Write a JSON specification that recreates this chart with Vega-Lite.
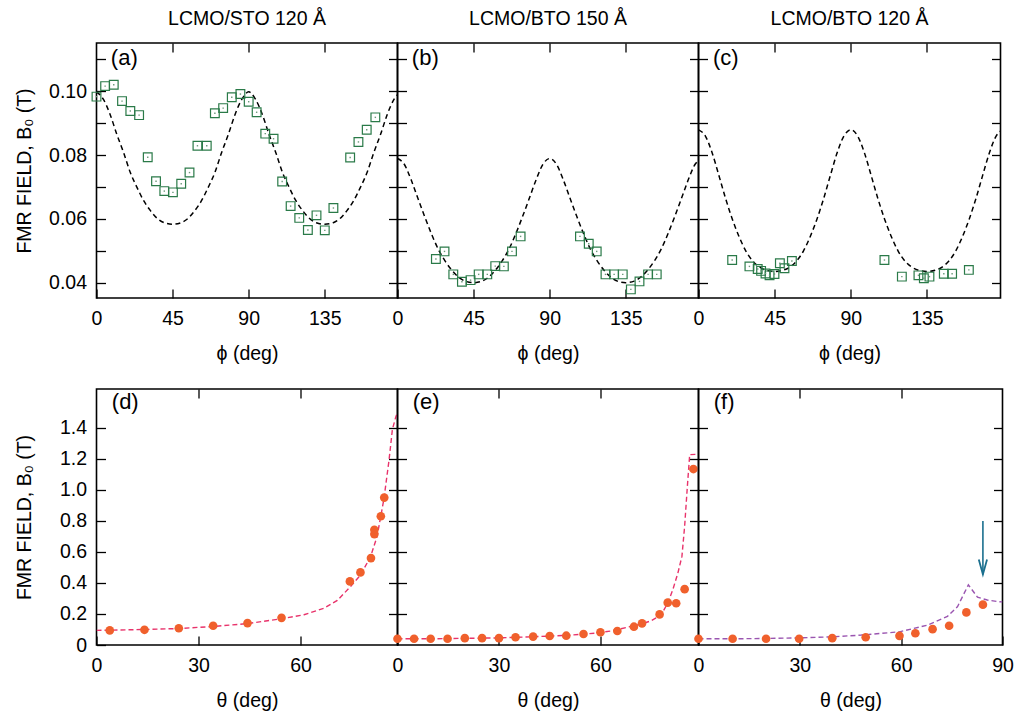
{
 "$schema": "https://vega.github.io/schema/vega-lite/v6.json",
 "background": "white",
 "padding": {"left": 13.5, "top": 8, "right": 5, "bottom": 5},
 "config": {
  "font": "Liberation Sans",
  "view": {"stroke": "black", "strokeWidth": 1.6},
  "axis": {"domain": false, "grid": false, "ticks": true, "tickSize": -9, "tickColor": "black", "tickWidth": 1.3,
           "labelFontSize": 19.5, "labelColor": "black", "labelFont": "Liberation Sans", "labelOverlap": false, "labelFlush": false,
           "titleFontSize": 19.5, "titleFontWeight": "normal", "titleColor": "black", "titleFont": "Liberation Sans", "labelPadding": 20},
  "axisX": {"titlePadding": 17},
  "axisY": {"labelPadding": 19, "titlePadding": 14},
  "title": {"fontSize": 19.5, "fontWeight": "normal", "color": "black", "font": "Liberation Sans", "offset": 13}
 },
 "datasets": {
  "a_pts": [
   {"phi":0,"B":0.0983},{"phi":5.1,"B":0.1016},{"phi":10.2,"B":0.1020},{"phi":15.1,"B":0.0969},{"phi":20,"B":0.0938},{"phi":25.2,"B":0.0925},{"phi":30.3,"B":0.0793},{"phi":35.2,"B":0.0718},{"phi":40.1,"B":0.0687},{"phi":45.2,"B":0.0683},{"phi":50.1,"B":0.0710},{"phi":55,"B":0.0745},{"phi":59.7,"B":0.0829},{"phi":65.2,"B":0.0829},{"phi":70,"B":0.0931},{"phi":74.9,"B":0.0947},{"phi":80,"B":0.0981},{"phi":85.1,"B":0.0991},{"phi":90,"B":0.0967},{"phi":94.7,"B":0.0934},{"phi":99.8,"B":0.0867},{"phi":104.7,"B":0.0851},{"phi":109.8,"B":0.0717},{"phi":114.8,"B":0.0640},{"phi":119.9,"B":0.0603},{"phi":125,"B":0.0565},{"phi":130.1,"B":0.0611},{"phi":135,"B":0.0564},{"phi":140.1,"B":0.0634},{"phi":150,"B":0.0792},{"phi":154.9,"B":0.0841},{"phi":159.8,"B":0.0879},{"phi":164.9,"B":0.0918}
  ],
  "a_fit": [
   {"phi":0,"B":0.0998},{"phi":4,"B":0.0975},{"phi":8,"B":0.0928},{"phi":12,"B":0.0865},{"phi":16,"B":0.0808},{"phi":20,"B":0.0745},{"phi":24,"B":0.0698},{"phi":28,"B":0.0656},{"phi":32,"B":0.0625},{"phi":36,"B":0.0601},{"phi":40,"B":0.0588},{"phi":45,"B":0.0583},{"phi":50,"B":0.0588},{"phi":54,"B":0.0601},{"phi":58,"B":0.0625},{"phi":62,"B":0.0656},{"phi":66,"B":0.0698},{"phi":70,"B":0.0745},{"phi":74,"B":0.0808},{"phi":78,"B":0.0865},{"phi":82,"B":0.0928},{"phi":86,"B":0.0975},{"phi":90,"B":0.0998},{"phi":94,"B":0.0975},{"phi":98,"B":0.0928},{"phi":102,"B":0.0865},{"phi":106,"B":0.0808},{"phi":110,"B":0.0745},{"phi":114,"B":0.0698},{"phi":118,"B":0.0656},{"phi":122,"B":0.0625},{"phi":126,"B":0.0601},{"phi":130,"B":0.0588},{"phi":135,"B":0.0583},{"phi":140,"B":0.0588},{"phi":144,"B":0.0601},{"phi":148,"B":0.0625},{"phi":152,"B":0.0656},{"phi":156,"B":0.0698},{"phi":160,"B":0.0745},{"phi":164,"B":0.0808},{"phi":168,"B":0.0865},{"phi":172,"B":0.0928},{"phi":176,"B":0.0975},{"phi":180,"B":0.0998}
  ],
  "b_pts": [
   {"phi":22.7,"B":0.0474},{"phi":27.8,"B":0.0498},{"phi":33,"B":0.0426},{"phi":38.1,"B":0.0403},{"phi":43.2,"B":0.0408},{"phi":48,"B":0.0426},{"phi":53.1,"B":0.0426},{"phi":57.8,"B":0.0452},{"phi":62.9,"B":0.0451},{"phi":67.7,"B":0.0498},{"phi":72.8,"B":0.0545},{"phi":107.9,"B":0.0545},{"phi":113.1,"B":0.0522},{"phi":117.8,"B":0.0498},{"phi":123,"B":0.0426},{"phi":128.1,"B":0.0426},{"phi":133.2,"B":0.0426},{"phi":138,"B":0.0379},{"phi":143.1,"B":0.0404},{"phi":148.2,"B":0.0426},{"phi":153.3,"B":0.0426}
  ],
  "b_fit": [
   {"phi":0,"B":0.0789},{"phi":4,"B":0.0771},{"phi":8,"B":0.0723},{"phi":12,"B":0.0665},{"phi":16,"B":0.0608},{"phi":20,"B":0.0554},{"phi":24,"B":0.0506},{"phi":28,"B":0.0469},{"phi":32,"B":0.0440},{"phi":36,"B":0.0418},{"phi":40,"B":0.0405},{"phi":45,"B":0.0400},{"phi":50,"B":0.0405},{"phi":54,"B":0.0418},{"phi":58,"B":0.0440},{"phi":62,"B":0.0469},{"phi":66,"B":0.0506},{"phi":70,"B":0.0554},{"phi":74,"B":0.0608},{"phi":78,"B":0.0665},{"phi":82,"B":0.0723},{"phi":86,"B":0.0771},{"phi":90,"B":0.0789},{"phi":94,"B":0.0771},{"phi":98,"B":0.0723},{"phi":102,"B":0.0665},{"phi":106,"B":0.0608},{"phi":110,"B":0.0554},{"phi":114,"B":0.0506},{"phi":118,"B":0.0469},{"phi":122,"B":0.0440},{"phi":126,"B":0.0418},{"phi":130,"B":0.0405},{"phi":135,"B":0.0400},{"phi":140,"B":0.0405},{"phi":144,"B":0.0418},{"phi":148,"B":0.0440},{"phi":152,"B":0.0469},{"phi":156,"B":0.0506},{"phi":160,"B":0.0554},{"phi":164,"B":0.0608},{"phi":168,"B":0.0665},{"phi":172,"B":0.0723},{"phi":176,"B":0.0771},{"phi":180,"B":0.0789}
  ],
  "c_pts": [
   {"phi":19.9,"B":0.0471},{"phi":30.1,"B":0.0451},{"phi":35,"B":0.0443},{"phi":37,"B":0.0437},{"phi":39.6,"B":0.0429},{"phi":42,"B":0.0423},{"phi":44.9,"B":0.0427},{"phi":48.1,"B":0.0461},{"phi":50.8,"B":0.0445},{"phi":55.2,"B":0.0468},{"phi":109.9,"B":0.0471},{"phi":120.2,"B":0.0419},{"phi":130,"B":0.0423},{"phi":133.2,"B":0.0414},{"phi":136.5,"B":0.0419},{"phi":145,"B":0.0428},{"phi":149.9,"B":0.0428},{"phi":159.8,"B":0.0440}
  ],
  "c_fit": [
   {"phi":0,"B":0.0879},{"phi":4,"B":0.0860},{"phi":8,"B":0.0808},{"phi":12,"B":0.0737},{"phi":16,"B":0.0664},{"phi":20,"B":0.0599},{"phi":24,"B":0.0544},{"phi":28,"B":0.0499},{"phi":32,"B":0.0468},{"phi":36,"B":0.0449},{"phi":40,"B":0.0439},{"phi":45,"B":0.0435},{"phi":50,"B":0.0439},{"phi":54,"B":0.0449},{"phi":58,"B":0.0468},{"phi":62,"B":0.0499},{"phi":66,"B":0.0544},{"phi":70,"B":0.0599},{"phi":74,"B":0.0664},{"phi":78,"B":0.0737},{"phi":82,"B":0.0808},{"phi":86,"B":0.0860},{"phi":90,"B":0.0879},{"phi":94,"B":0.0860},{"phi":98,"B":0.0808},{"phi":102,"B":0.0737},{"phi":106,"B":0.0664},{"phi":110,"B":0.0599},{"phi":114,"B":0.0544},{"phi":118,"B":0.0499},{"phi":122,"B":0.0468},{"phi":126,"B":0.0449},{"phi":130,"B":0.0439},{"phi":135,"B":0.0435},{"phi":140,"B":0.0439},{"phi":144,"B":0.0449},{"phi":148,"B":0.0468},{"phi":152,"B":0.0499},{"phi":156,"B":0.0544},{"phi":160,"B":0.0599},{"phi":164,"B":0.0664},{"phi":168,"B":0.0737},{"phi":172,"B":0.0808},{"phi":176,"B":0.0860},{"phi":180,"B":0.0879}
  ],
  "d_pts": [
   {"theta":3.9,"B":0.094},{"theta":14.1,"B":0.098},{"theta":24.2,"B":0.108},{"theta":34.3,"B":0.124},{"theta":44.4,"B":0.141},{"theta":54.4,"B":0.175},{"theta":74.5,"B":0.41},{"theta":77.6,"B":0.468},{"theta":80.7,"B":0.56},{"theta":81.7,"B":0.715},{"theta":81.7,"B":0.743},{"theta":83.6,"B":0.83},{"theta":84.6,"B":0.95}
  ],
  "d_fit": [
   {"theta":0,"B":0.094},{"theta":14,"B":0.1},{"theta":24,"B":0.106},{"theta":34,"B":0.119},{"theta":44,"B":0.137},{"theta":54.4,"B":0.169},{"theta":61,"B":0.195},{"theta":66.9,"B":0.237},{"theta":70.8,"B":0.287},{"theta":74.7,"B":0.377},{"theta":77.6,"B":0.45},{"theta":80.6,"B":0.57},{"theta":82.5,"B":0.7},{"theta":84.5,"B":0.94},{"theta":86,"B":1.19},{"theta":87,"B":1.39},{"theta":88,"B":1.47},{"theta":88.5,"B":1.5}
  ],
  "e_pts": [
   {"theta":0,"B":0.04},{"theta":4.9,"B":0.04},{"theta":9.8,"B":0.04},{"theta":14.8,"B":0.04},{"theta":19.9,"B":0.044},{"theta":25,"B":0.044},{"theta":30,"B":0.044},{"theta":34.9,"B":0.05},{"theta":40.1,"B":0.054},{"theta":45,"B":0.058},{"theta":49.9,"B":0.06},{"theta":55,"B":0.071},{"theta":60,"B":0.082},{"theta":65,"B":0.09},{"theta":69.9,"B":0.118},{"theta":72.3,"B":0.139},{"theta":77.5,"B":0.197},{"theta":79.9,"B":0.273},{"theta":82.4,"B":0.269},{"theta":84.9,"B":0.36},{"theta":87.5,"B":1.134}
  ],
  "e_fit": [
   {"theta":0,"B":0.04},{"theta":10,"B":0.04},{"theta":20,"B":0.043},{"theta":30,"B":0.046},{"theta":40,"B":0.053},{"theta":50,"B":0.062},{"theta":58.3,"B":0.076},{"theta":63,"B":0.09},{"theta":68.1,"B":0.115},{"theta":72,"B":0.135},{"theta":75,"B":0.156},{"theta":78,"B":0.195},{"theta":79.9,"B":0.27},{"theta":81.4,"B":0.356},{"theta":82.9,"B":0.463},{"theta":84.1,"B":0.571},{"theta":84.9,"B":0.765},{"theta":85.7,"B":1.02},{"theta":86.4,"B":1.227},{"theta":89,"B":1.23}
  ],
  "f_pts": [
   {"theta":0,"B":0.04},{"theta":10.1,"B":0.04},{"theta":20,"B":0.04},{"theta":29.8,"B":0.04},{"theta":39.6,"B":0.044},{"theta":49.5,"B":0.05},{"theta":59.5,"B":0.059},{"theta":64.2,"B":0.076},{"theta":69.3,"B":0.102},{"theta":74.2,"B":0.124},{"theta":79.3,"B":0.21},{"theta":84.2,"B":0.26}
  ],
  "f_fit": [
   {"theta":0,"B":0.04},{"theta":10,"B":0.04},{"theta":20,"B":0.042},{"theta":30,"B":0.046},{"theta":40,"B":0.053},{"theta":48.2,"B":0.064},{"theta":59.5,"B":0.085},{"theta":67.8,"B":0.128},{"theta":73.7,"B":0.184},{"theta":76.7,"B":0.248},{"theta":79.9,"B":0.388},{"theta":82.6,"B":0.308},{"theta":85.5,"B":0.29},{"theta":88.5,"B":0.28},{"theta":90,"B":0.278}
  ],
  "f_arrow": [
   {"theta":84.2,"tip":0.455,"tail":0.8,"head":0.503}
  ]
 },
 "columns": 3,
 "bounds": "flush",
 "spacing": {"row": 91, "column": 0},
 "concat": [
  {
   "width": 301, "height": 255,
   "title": {"text": "LCMO/STO 120 Å"},
   "layer": [
    {"data": {"name": "a_fit"}, "mark": {"type": "line", "color": "black", "strokeWidth": 1.5, "strokeDash": [5, 3.5], "clip": true, "interpolate": "monotone"},
     "encoding": {
      "x": {"field": "phi", "type": "quantitative", "scale": {"domain": [0, 178], "nice": false, "zero": false}, "axis": {"orient": "top", "labels": false, "title": null, "values": [45, 90, 135]}},
      "y": {"field": "B", "type": "quantitative", "scale": {"domain": [0.0352, 0.1151], "nice": false, "zero": false}, "axis": {"orient": "right", "labels": false, "title": null, "values": [0.04, 0.05, 0.06, 0.07, 0.08, 0.09, 0.10, 0.11]}}}},
    {"data": {"name": "a_pts"}, "mark": {"type": "point", "shape": "square", "size": 76, "filled": false, "stroke": "#2a7a48", "strokeWidth": 1.2, "opacity": 1},
     "encoding": {
      "x": {"field": "phi", "type": "quantitative", "axis": {"orient": "bottom", "title": "ϕ (deg)", "values": [0, 45, 90, 135]}},
      "y": {"field": "B", "type": "quantitative", "axis": {"orient": "left", "title": "FMR FIELD, B₀ (T)", "values": [0.04, 0.05, 0.06, 0.07, 0.08, 0.09, 0.10, 0.11], "labelExpr": "round(datum.value*100) % 2 == 0 && datum.value < 0.105 ? format(datum.value, '.2f') : ''"}}}},
    {"data": {"name": "a_pts"}, "mark": {"type": "point", "shape": "square", "size": 2, "filled": true, "color": "#6a9a7a", "opacity": 1},
     "encoding": {"x": {"field": "phi", "type": "quantitative", "axis": null}, "y": {"field": "B", "type": "quantitative", "axis": null}}},
    {"data": {"values": [{}]}, "mark": {"type": "text", "text": "(a)", "fontSize": 22, "align": "left", "baseline": "middle", "color": "black"},
     "encoding": {"x": {"datum": 8.5, "type": "quantitative", "axis": null}, "y": {"datum": 0.1105, "type": "quantitative", "axis": null}}}
   ]
  },
  {
   "width": 301, "height": 255,
   "title": {"text": "LCMO/BTO 150 Å"},
   "layer": [
    {"data": {"name": "b_fit"}, "mark": {"type": "line", "color": "black", "strokeWidth": 1.5, "strokeDash": [5, 3.5], "clip": true, "interpolate": "monotone"},
     "encoding": {
      "x": {"field": "phi", "type": "quantitative", "scale": {"domain": [0, 178], "nice": false, "zero": false}, "axis": {"orient": "top", "labels": false, "title": null, "values": [45, 90, 135]}},
      "y": {"field": "B", "type": "quantitative", "scale": {"domain": [0.0352, 0.1151], "nice": false, "zero": false}, "axis": {"orient": "right", "labels": false, "title": null, "values": [0.04, 0.05, 0.06, 0.07, 0.08, 0.09, 0.10, 0.11]}}}},
    {"data": {"name": "b_pts"}, "mark": {"type": "point", "shape": "square", "size": 76, "filled": false, "stroke": "#2a7a48", "strokeWidth": 1.2, "opacity": 1},
     "encoding": {
      "x": {"field": "phi", "type": "quantitative", "axis": {"orient": "bottom", "title": "ϕ (deg)", "values": [0, 45, 90, 135]}},
      "y": {"field": "B", "type": "quantitative", "axis": {"orient": "left", "title": null, "labels": false, "values": [0.04, 0.05, 0.06, 0.07, 0.08, 0.09, 0.10, 0.11]}}}},
    {"data": {"name": "b_pts"}, "mark": {"type": "point", "shape": "square", "size": 2, "filled": true, "color": "#6a9a7a", "opacity": 1},
     "encoding": {"x": {"field": "phi", "type": "quantitative", "axis": null}, "y": {"field": "B", "type": "quantitative", "axis": null}}},
    {"data": {"values": [{}]}, "mark": {"type": "text", "text": "(b)", "fontSize": 22, "align": "left", "baseline": "middle", "color": "black"},
     "encoding": {"x": {"datum": 8.5, "type": "quantitative", "axis": null}, "y": {"datum": 0.1105, "type": "quantitative", "axis": null}}}
   ]
  },
  {
   "width": 302, "height": 255,
   "title": {"text": "LCMO/BTO 120 Å"},
   "layer": [
    {"data": {"name": "c_fit"}, "mark": {"type": "line", "color": "black", "strokeWidth": 1.5, "strokeDash": [5, 3.5], "clip": true, "interpolate": "monotone"},
     "encoding": {
      "x": {"field": "phi", "type": "quantitative", "scale": {"domain": [0, 178.5], "nice": false, "zero": false}, "axis": {"orient": "top", "labels": false, "title": null, "values": [45, 90, 135]}},
      "y": {"field": "B", "type": "quantitative", "scale": {"domain": [0.0352, 0.1151], "nice": false, "zero": false}, "axis": {"orient": "right", "labels": false, "title": null, "values": [0.04, 0.05, 0.06, 0.07, 0.08, 0.09, 0.10, 0.11]}}}},
    {"data": {"name": "c_pts"}, "mark": {"type": "point", "shape": "square", "size": 76, "filled": false, "stroke": "#2a7a48", "strokeWidth": 1.2, "opacity": 1},
     "encoding": {
      "x": {"field": "phi", "type": "quantitative", "axis": {"orient": "bottom", "title": "ϕ (deg)", "values": [0, 45, 90, 135]}},
      "y": {"field": "B", "type": "quantitative", "axis": {"orient": "left", "title": null, "labels": false, "values": [0.04, 0.05, 0.06, 0.07, 0.08, 0.09, 0.10, 0.11]}}}},
    {"data": {"name": "c_pts"}, "mark": {"type": "point", "shape": "square", "size": 2, "filled": true, "color": "#6a9a7a", "opacity": 1},
     "encoding": {"x": {"field": "phi", "type": "quantitative", "axis": null}, "y": {"field": "B", "type": "quantitative", "axis": null}}},
    {"data": {"values": [{}]}, "mark": {"type": "text", "text": "(c)", "fontSize": 22, "align": "left", "baseline": "middle", "color": "black"},
     "encoding": {"x": {"datum": 8.5, "type": "quantitative", "axis": null}, "y": {"datum": 0.1105, "type": "quantitative", "axis": null}}}
   ]
  },
  {
   "width": 301, "height": 256,
   "layer": [
    {"data": {"name": "d_fit"}, "mark": {"type": "line", "color": "#e8336b", "strokeWidth": 1.4, "strokeDash": [5, 3], "clip": true},
     "encoding": {
      "x": {"field": "theta", "type": "quantitative", "scale": {"domain": [0, 88.5], "nice": false, "zero": false}, "axis": {"orient": "top", "labels": false, "title": null, "values": [30, 60]}},
      "y": {"field": "B", "type": "quantitative", "scale": {"domain": [0, 1.65], "nice": false}, "axis": {"orient": "right", "labels": false, "title": null, "values": [0.2, 0.4, 0.6, 0.8, 1.0, 1.2, 1.4]}}}},
    {"data": {"name": "d_pts"}, "mark": {"type": "circle", "size": 75, "color": "#f0602c", "opacity": 1},
     "encoding": {
      "x": {"field": "theta", "type": "quantitative", "axis": {"orient": "bottom", "title": "θ (deg)", "values": [0, 30, 60]}},
      "y": {"field": "B", "type": "quantitative", "axis": {"orient": "left", "title": "FMR FIELD, B₀ (T)", "titlePadding": 25, "values": [0, 0.2, 0.4, 0.6, 0.8, 1.0, 1.2, 1.4], "labelExpr": "datum.value == 0 ? '0' : format(datum.value, '.1f')"}}}},
    {"data": {"values": [{}]}, "mark": {"type": "text", "text": "(d)", "fontSize": 22, "align": "left", "baseline": "middle", "color": "black"},
     "encoding": {"x": {"datum": 4.5, "type": "quantitative", "axis": null}, "y": {"datum": 1.568, "type": "quantitative", "axis": null}}}
   ]
  },
  {
   "width": 301, "height": 256,
   "layer": [
    {"data": {"name": "e_fit"}, "mark": {"type": "line", "color": "#e8336b", "strokeWidth": 1.4, "strokeDash": [5, 3], "clip": true},
     "encoding": {
      "x": {"field": "theta", "type": "quantitative", "scale": {"domain": [0, 89], "nice": false, "zero": false}, "axis": {"orient": "top", "labels": false, "title": null, "values": [30, 60]}},
      "y": {"field": "B", "type": "quantitative", "scale": {"domain": [0, 1.65], "nice": false}, "axis": {"orient": "right", "labels": false, "title": null, "values": [0.2, 0.4, 0.6, 0.8, 1.0, 1.2, 1.4]}}}},
    {"data": {"name": "e_pts"}, "mark": {"type": "circle", "size": 75, "color": "#f0602c", "opacity": 1},
     "encoding": {
      "x": {"field": "theta", "type": "quantitative", "axis": {"orient": "bottom", "title": "θ (deg)", "values": [0, 30, 60]}},
      "y": {"field": "B", "type": "quantitative", "axis": {"orient": "left", "title": null, "labels": false, "values": [0.2, 0.4, 0.6, 0.8, 1.0, 1.2, 1.4]}}}},
    {"data": {"values": [{}]}, "mark": {"type": "text", "text": "(e)", "fontSize": 22, "align": "left", "baseline": "middle", "color": "black"},
     "encoding": {"x": {"datum": 4.5, "type": "quantitative", "axis": null}, "y": {"datum": 1.568, "type": "quantitative", "axis": null}}}
   ]
  },
  {
   "width": 304, "height": 256,
   "layer": [
    {"data": {"name": "f_fit"}, "mark": {"type": "line", "color": "#9a55b0", "strokeWidth": 1.4, "strokeDash": [5, 3], "clip": true},
     "encoding": {
      "x": {"field": "theta", "type": "quantitative", "scale": {"domain": [0, 90], "nice": false, "zero": false}, "axis": {"orient": "top", "labels": false, "title": null, "values": [30, 60]}},
      "y": {"field": "B", "type": "quantitative", "scale": {"domain": [0, 1.65], "nice": false}, "axis": {"orient": "right", "labels": false, "title": null, "values": [0.2, 0.4, 0.6, 0.8, 1.0, 1.2, 1.4]}}}},
    {"data": {"name": "f_pts"}, "mark": {"type": "circle", "size": 75, "color": "#f0602c", "opacity": 1},
     "encoding": {
      "x": {"field": "theta", "type": "quantitative", "axis": {"orient": "bottom", "title": "θ (deg)", "values": [0, 30, 60, 90]}},
      "y": {"field": "B", "type": "quantitative", "axis": {"orient": "left", "title": null, "labels": false, "values": [0.2, 0.4, 0.6, 0.8, 1.0, 1.2, 1.4]}}}},
    {"data": {"name": "f_arrow"}, "mark": {"type": "rule", "color": "#1a6f8e", "strokeWidth": 1.6},
     "encoding": {"x": {"field": "theta", "type": "quantitative", "axis": null}, "y": {"field": "tip", "type": "quantitative", "axis": null}, "y2": {"field": "tail"}}},
    {"data": {"name": "f_arrow"}, "mark": {"type": "point", "shape": "M -0.55 -1 L 0 1 L 0.55 -1", "size": 225, "filled": false, "stroke": "#1a6f8e", "strokeWidth": 1.8, "opacity": 1},
     "encoding": {"x": {"field": "theta", "type": "quantitative", "axis": null}, "y": {"field": "head", "type": "quantitative", "axis": null}}},
    {"data": {"values": [{}]}, "mark": {"type": "text", "text": "(f)", "fontSize": 22, "align": "left", "baseline": "middle", "color": "black"},
     "encoding": {"x": {"datum": 4.5, "type": "quantitative", "axis": null}, "y": {"datum": 1.568, "type": "quantitative", "axis": null}}}
   ]
  }
 ]
}
